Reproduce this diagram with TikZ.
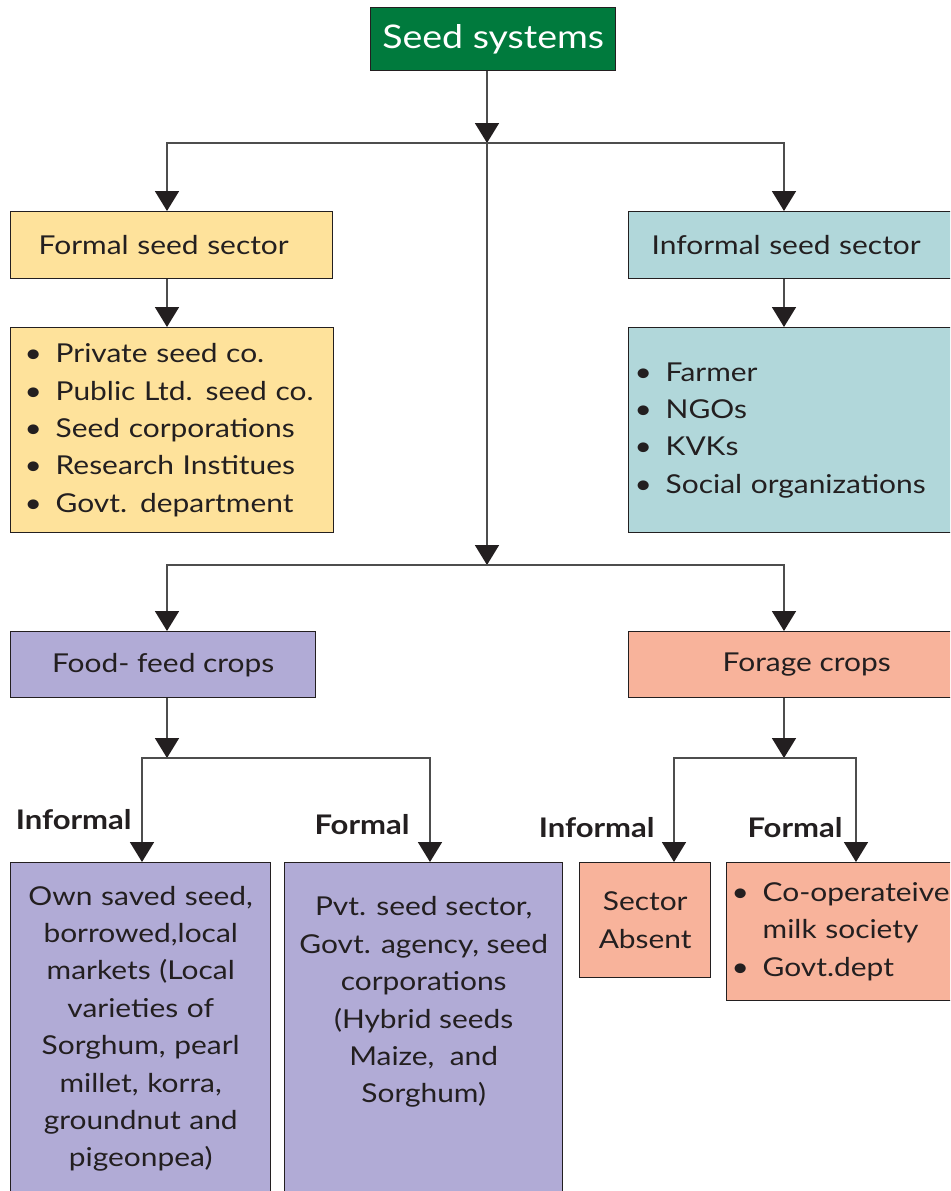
\documentclass[tikz,border=0pt]{standalone}
\usepackage{fontspec}
\setmainfont{Lato}[FakeStretch=1.15]
\usetikzlibrary{arrows.meta,positioning}

\definecolor{seedgreen}{HTML}{007A3D}
\definecolor{formalyellow}{HTML}{FEE29B}
\definecolor{informalblue}{HTML}{B1D7DA}
\definecolor{foodlilac}{HTML}{B1ABD6}
\definecolor{foragesalmon}{HTML}{F8B39B}
\definecolor{linegray}{HTML}{4D4D4D}
\definecolor{inkdark}{HTML}{231F20}

\newcommand{\itembullet}{\makebox[12.5pt][l]{\hspace*{-3pt}\textbullet}}
\newcommand{\itemhang}{\hspace*{12.5pt}}

\begin{document}
\begin{tikzpicture}[x=0.5pt, y=-0.5pt,
        >={Triangle[width=12pt,length=10pt,color=inkdark]},
        box/.style={draw=inkdark, line width=0.7pt, inner sep=0pt, anchor=north west,
            text=inkdark, font=\fontsize{13}{18.7}\selectfont},
        link/.style={draw=linegray, line width=0.9pt},
        branch/.style={font=\bfseries\fontsize{13.5}{16}\selectfont, text=inkdark, inner sep=0pt}]
    \clip (0,0) rectangle (950,1191);

    % boxes
    \node[box, fill=seedgreen, text=white, minimum width=122.5pt, minimum height=31.5pt,
        font=\fontsize{16.3}{20}\selectfont] (seed) at (370,7) {Seed systems};

    \node[box, fill=formalyellow, inner xsep=14pt, text width=133pt, align=left,
        minimum height=33.5pt] (formal) at (10,211) {Formal seed sector};
    \node[box, fill=formalyellow, inner xsep=10pt, text width=141.5pt, align=left,
        minimum height=102.5pt] (formalList) at (10,327)
        {\itembullet Private seed co.\\ \itembullet Public Ltd. seed co.\\
         \itembullet Seed corporations\\ \itembullet Research Institues\\
         \itembullet Govt. department};

    \node[box, fill=informalblue, inner xsep=11.5pt, text width=143pt, align=left,
        minimum height=33.5pt] (informal) at (628,211) {Informal seed sector};
    \node[box, fill=informalblue, inner xsep=6pt, text width=154pt, align=left,
        minimum height=102.5pt] (informalList) at (628,327)
        {\itembullet Farmer\\ \itembullet NGOs\\ \itembullet KVKs\\
         \itembullet Social organizations};

    \node[box, fill=foodlilac, minimum width=152.5pt, minimum height=33pt] (food) at (10,631) {Food- feed crops};
    \node[box, fill=foragesalmon, minimum width=178pt, minimum height=33pt] (forage) at (628,631) {Forage crops};

    \node[box, fill=foodlilac, minimum width=130pt, minimum height=166pt, text width=126pt,
        inner xsep=2pt, align=center] (ownSeed) at (10,862)
        {Own saved seed,\\ borrowed,local\\ markets (Local\\ varieties of\\ Sorghum, pearl\\
         millet, korra,\\ groundnut and\\ pigeonpea)};
    \node[box, fill=foodlilac, minimum width=139pt, minimum height=166pt] (pvtSeed) at (284,862) {};
    \node[box, anchor=north, draw=none, align=center, below=17pt of pvtSeed.north] (pvtText)
        {Pvt. seed sector,\\ Govt. agency, seed\\ corporations\\ (Hybrid seeds\\ Maize,\ \ and\\ Sorghum)};

    \node[box, fill=foragesalmon, minimum width=65.5pt, minimum height=57.5pt, align=center] (absent) at (579,862)
        {Sector\\ Absent};
    \node[box, fill=foragesalmon, inner xsep=5.5pt, text width=106pt, align=left,
        minimum height=69pt] (coop) at (726,862)
        {\itembullet Co-operateive\\ \itemhang milk society\\ \itembullet Govt.dept};

    % split points
    \coordinate (hubTop) at (487,143);
    \coordinate (hubLow) at (487,565);
    \coordinate (barLeft) at (167,143);
    \coordinate (barRight) at (784,143);
    \coordinate (lowLeft) at (167,565);
    \coordinate (lowRight) at (784,565);
    \coordinate (foodHub) at (167,758);
    \coordinate (forageHub) at (784,758);
    \coordinate (foodInf) at (142,758);
    \coordinate (foodFor) at (430,758);
    \coordinate (forageInf) at (674,758);
    \coordinate (forageFor) at (856,758);

    % connectors
    \draw[link,->] (seed.south -| hubTop) -- (hubTop);
    \draw[link,->] (hubTop) -- (hubLow);
    \draw[link,->] (hubTop) -- (barLeft) -- (barLeft |- formal.north);
    \draw[link,->] (hubTop) -- (barRight) -- (barRight |- informal.north);
    \draw[link,->] (formal.south -| barLeft) -- (formalList.north -| barLeft);
    \draw[link,->] (informal.south -| barRight) -- (informalList.north -| barRight);

    \draw[link,->] (hubLow) -- (lowLeft) -- (lowLeft |- food.north);
    \draw[link,->] (hubLow) -- (lowRight) -- (lowRight |- forage.north);

    \draw[link,->] (food.south -| foodHub) -- (foodHub);
    \draw[link,->] (foodHub) -- (foodInf) -- (foodInf |- ownSeed.north);
    \draw[link,->] (foodHub) -- (foodFor) -- (foodFor |- pvtSeed.north);
    \draw[link,->] (forage.south -| forageHub) -- (forageHub);
    \draw[link,->] (forageHub) -- (forageInf) -- (forageInf |- absent.north);
    \draw[link,->] (forageHub) -- (forageFor) -- (forageFor |- coop.north);

    % branch labels
    \node[branch, anchor=east] (foodInfLabel) at (132,820) {Informal};
    \node[branch, anchor=east] (foodForLabel) at (410,825) {Formal};
    \node[branch, anchor=east] (forageInfLabel) at (655,828) {Informal};
    \node[branch, anchor=east] (forageForLabel) at (843,828) {Formal};
\end{tikzpicture}
\end{document}
